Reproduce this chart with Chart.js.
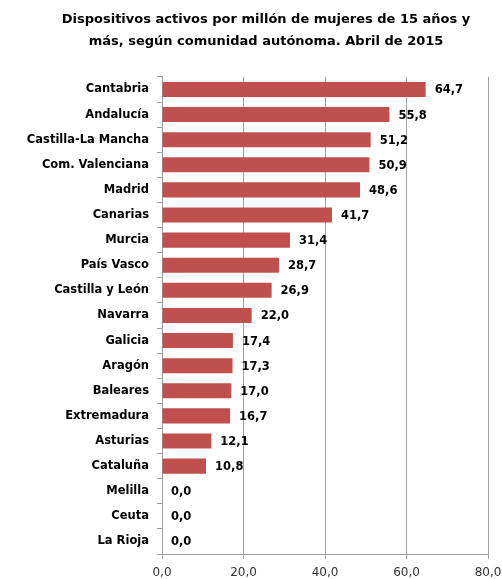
<!DOCTYPE html>
<html>
    <head>
        <title>Dispositivos activos</title>
        <script src="https://cdn.jsdelivr.net/npm/chart.js@4"></script>
        <style>
            html, body { margin: 0; padding: 0; background: #fff; }
            #wrap { width: 502px; height: 579px; }
        </style>
    </head>
    <body>
        <div id="wrap"><canvas id="chart"></canvas></div>

        <script>
            const titulo = [
                'Dispositivos activos por millón de mujeres de 15 años y',
                'más, según comunidad autónoma. Abril de 2015',
            ]
            const comunidades = [
                'Cantabria', 'Andalucía', 'Castilla-La Mancha', 'Com. Valenciana',
                'Madrid', 'Canarias', 'Murcia', 'País Vasco', 'Castilla y León',
                'Navarra', 'Galicia', 'Aragón', 'Baleares', 'Extremadura',
                'Asturias', 'Cataluña', 'Melilla', 'Ceuta', 'La Rioja',
            ]
            const valores = [
                64.7, 55.8, 51.2, 50.9, 48.6, 41.7, 31.4, 28.7, 26.9,
                22.0, 17.4, 17.3, 17.0, 16.7, 12.1, 10.8, 0.0, 0.0, 0.0,
            ]
            const ticksX = ['0,0', '20,0', '40,0', '60,0', '80,0']

            const fuente = 'DejaVu Sans'
            const fmt = v => v.toFixed(1).replace('.', ',')

            // etiquetas de valor al final de cada barra
            const etiquetas = {
                id: 'etiquetas',
                afterLayout(chart) {
                    // el título va algo desplazado a la derecha
                    chart.titleBlock.left += 22
                    chart.titleBlock.right += 22
                },
                afterDatasetsDraw(chart) {
                    const ctx = chart.ctx
                    const meta = chart.getDatasetMeta(0)
                    ctx.save()
                    ctx.font = 'bold 11.5px "' + fuente + '"'
                    ctx.fillStyle = '#000'
                    ctx.textBaseline = 'middle'
                    ctx.textAlign = 'left'
                    meta.data.forEach((bar, i) => {
                        ctx.fillText(fmt(valores[i]), bar.x + 9, bar.y + 1)
                    })
                    ctx.restore()
                },
            }

            new Chart('chart', {
                type: 'bar',
                data: {
                    labels: comunidades,
                    datasets: [
                        {
                            data: valores,
                            backgroundColor: '#C0504D',
                            borderWidth: 0,
                            barPercentage: 0.6,
                            categoryPercentage: 1.0,
                        },
                    ],
                },
                options: {
                    indexAxis: 'y',
                    responsive: true,
                    maintainAspectRatio: false,
                    animation: false,
                    layout: { padding: { left: 0, right: 14, top: 0, bottom: 0 } },
                    plugins: {
                        legend: { display: false },
                        tooltip: { enabled: false },
                        title: {
                            display: true,
                            text: titulo,
                            color: '#000',
                            font: { family: fuente, weight: 'bold', size: 13, lineHeight: 1.65 },
                            padding: { top: 9, bottom: 25 },
                        },
                    },
                    scales: {
                        x: {
                            min: 0,
                            max: 80,
                            ticks: {
                                stepSize: 20,
                                color: '#333',
                                font: { family: fuente, size: 12 },
                                padding: 7,
                                maxRotation: 0,
                                callback: v => ticksX[v / 20],
                            },
                            grid: { color: '#a0a0a0', tickLength: 5 },
                            border: { color: '#a0a0a0' },
                            afterFit: s => {
                                s.height = 25
                                s.paddingLeft = 0
                                s.paddingRight = 0
                            },
                        },
                        y: {
                            ticks: {
                                color: '#000',
                                font: { family: fuente, weight: 'bold', size: 11.5 },
                                padding: 8,
                                autoSkip: false,
                            },
                            grid: { drawOnChartArea: false, tickLength: 5, color: '#a0a0a0' },
                            border: { color: '#a0a0a0' },
                            afterFit: s => { s.width = 162 },
                        },
                    },
                },
                plugins: [etiquetas],
            })
        </script>
    </body>
</html>
